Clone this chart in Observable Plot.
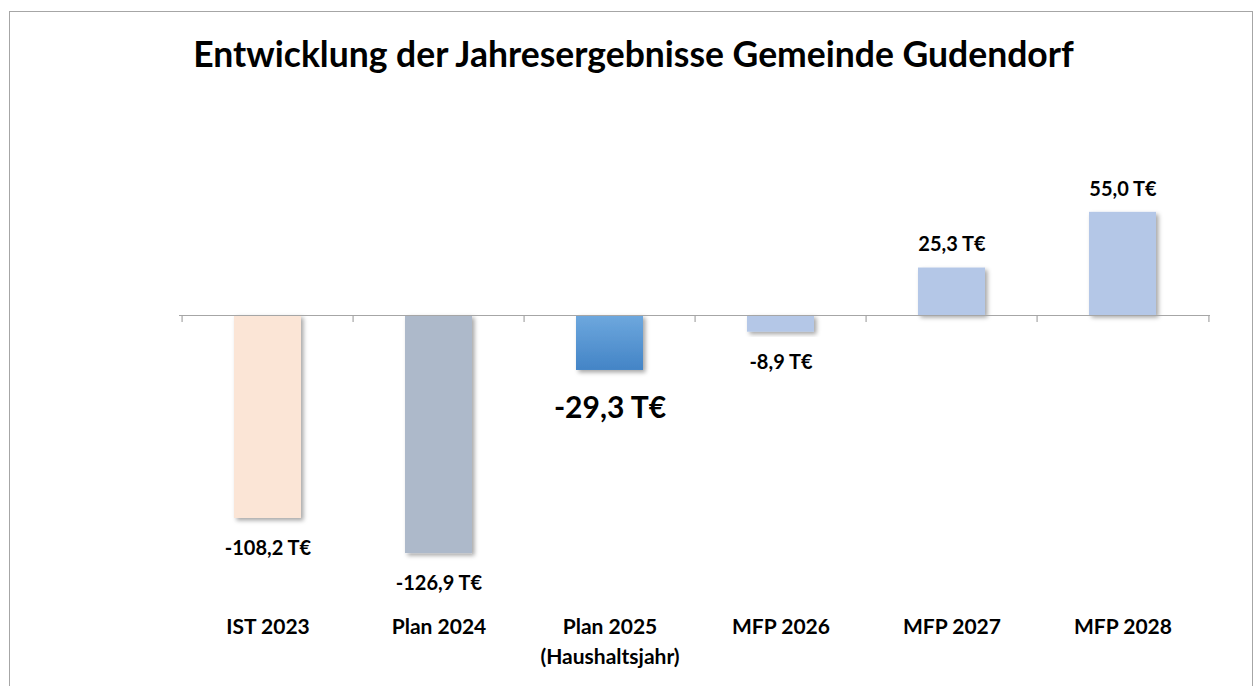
<!DOCTYPE html>
<html>
<head>
<meta charset="utf-8">
<script src="https://cdn.jsdelivr.net/npm/d3@7"></script>
<script src="https://cdn.jsdelivr.net/npm/@observablehq/plot@0.6"></script>
<style>
  html, body { margin: 0; padding: 0; background: #fff; width: 1257px; height: 686px; overflow: hidden; }
  #frame { position: absolute; left: 9px; top: 11px; width: 1244px; height: 720px; border: 1px solid #a6a6a6; box-sizing: border-box; }
  #title { position: absolute; left: 0; top: 33px; width: 1267px; text-align: center; font-family: Lato, "Open Sans", sans-serif; font-weight: 700; font-size: 35.5px; color: #000; line-height: 42px; }
  #chart { position: absolute; left: 0; top: 0; }
</style>
</head>
<body>
<div id="frame"></div>
<div id="title">Entwicklung der Jahresergebnisse Gemeinde Gudendorf</div>
<div id="chart"></div>
<script>
// ---- data ----
const categories = ["IST 2023", "Plan 2024", "Plan 2025\n(Haushaltsjahr)", "MFP 2026", "MFP 2027", "MFP 2028"];
const values = [-108.2, -126.9, -29.3, -8.9, 25.3, 55.0];
const unit = " T€";

// ---- styles ----
const barColors = ["#fbe5d6", "#adb9ca", "url(#gradBlue)", "#b4c7e7", "#b4c7e7", "#b4c7e7"];
const highlightIndex = 2; // Haushaltsjahr

const data = categories.map((c, i) => ({cat: c, value: values[i], color: barColors[i], i}));
const fmt = v => d3.format(".1f")(v).replace(".", ",").replace("−", "-") + unit;

const W = 1257, H = 686;
const mL = 179, mR = W - 1210;
const k = 1.876;          // px per unit
const zeroY = 315;
const yDomain = [-130, 70];
const yRange = [zeroY - yDomain[0] * k, zeroY - yDomain[1] * k];
const padI = 0.61, padO = padI / 2;
const step = (W - mL - mR) / categories.length;
const tickLen = 7 / k;
const font = 'Lato, "Open Sans", sans-serif';

const neg = data.filter(d => d.value < 0 && d.i !== highlightIndex);
const pos = data.filter(d => d.value >= 0);
const hl = data.filter(d => d.i === highlightIndex);

const p = Plot.plot({
  width: W,
  height: H,
  marginLeft: mL,
  marginRight: mR,
  marginTop: 0,
  marginBottom: 74,
  style: {fontFamily: font, background: "transparent", overflow: "visible", color: "#000"},
  x: {domain: categories, paddingInner: padI, paddingOuter: padO},
  y: {domain: yDomain, range: yRange, axis: null},
  marks: [
    Plot.barY(data, {x: "cat", y: "value", fill: "color", className: "bars"}),
    Plot.ruleY([0], {stroke: "#a6a6a6", strokeWidth: 1.2}),
    Plot.ruleX(categories, {x: d => d, y1: 0, y2: -tickLen, dx: -step / 2, stroke: "#a6a6a6", strokeWidth: 1.2}),
    Plot.ruleX(categories.slice(-1), {x: d => d, y1: 0, y2: -tickLen, dx: step / 2, stroke: "#a6a6a6", strokeWidth: 1.2}),
    Plot.text(neg, {x: "cat", y: "value", text: d => fmt(d.value), dy: 30, fontSize: 20, fontWeight: 700, fill: "#000", lineAnchor: "middle"}),
    Plot.text(pos, {x: "cat", y: "value", text: d => fmt(d.value), dy: -23, fontSize: 20, fontWeight: 700, fill: "#000", lineAnchor: "middle"}),
    Plot.text(hl, {x: "cat", y: "value", text: d => fmt(d.value), dy: 38, fontSize: 30, fontWeight: 700, fill: "#000", lineAnchor: "middle"}),
    Plot.axisX({anchor: "bottom", tickSize: 0, tickPadding: 0, fontSize: 21, fontWeight: 700, lineHeight: 1.43, fill: "#000", label: null})
  ]
});
const svg = d3.select(p);
const defs = svg.insert("defs", ":first-child");
const g = defs.append("linearGradient").attr("id", "gradBlue").attr("x1", 0).attr("y1", 0).attr("x2", 0).attr("y2", 1);
g.append("stop").attr("offset", "0%").attr("stop-color", "#6ea8de");
g.append("stop").attr("offset", "100%").attr("stop-color", "#4384c6");
const f = defs.append("filter").attr("id", "shadow").attr("x", "-20%").attr("y", "-20%").attr("width", "150%").attr("height", "150%");
f.append("feDropShadow").attr("dx", 2.5).attr("dy", 2.5).attr("stdDeviation", 2).attr("flood-color", "#000").attr("flood-opacity", 0.35);
svg.selectAll(".bars rect").attr("filter", "url(#shadow)");
document.getElementById("chart").appendChild(p);
</script>
</body>
</html>
